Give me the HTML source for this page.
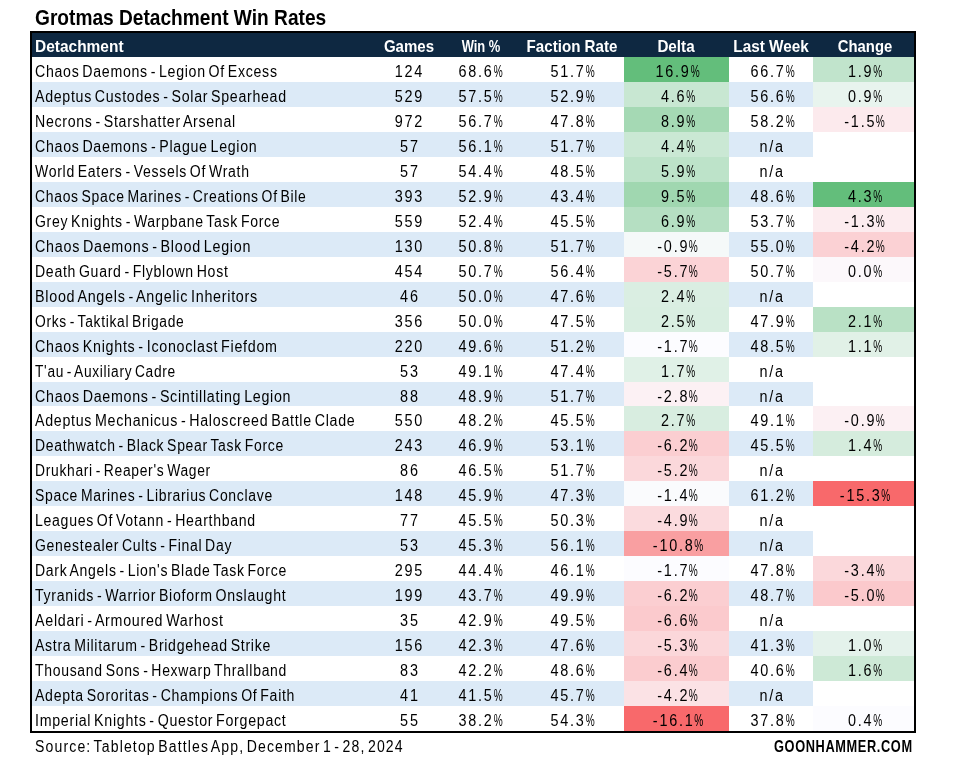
<!DOCTYPE html>
<html><head><meta charset="utf-8"><title>Grotmas Detachment Win Rates</title>
<style>
html,body{margin:0;padding:0;background:#fff;}
body{width:953px;height:759px;position:relative;overflow:hidden;font-family:"Liberation Sans",Arial,sans-serif;color:#000;}
.t{position:absolute;white-space:nowrap;transform-origin:0 0;}
#title{left:34.5px;top:6px;font-size:21.5px;font-weight:bold;line-height:24px;transform:scaleX(0.89);}
#src{left:35px;top:737px;font-size:16px;line-height:20px;transform:scaleX(0.878);letter-spacing:1.3px;word-spacing:-3px;}
#gh{left:773.5px;top:736px;font-size:16.5px;font-weight:bold;line-height:20px;transform:scaleX(0.775);letter-spacing:0.8px;}
#tb{position:absolute;left:30px;top:31px;width:882px;height:698px;border:2px solid #000;overflow:hidden;background:#fff;}
#hd{position:absolute;left:0;top:0;width:882px;height:24px;background:#0e2841;color:#fff;font-weight:bold;font-size:17px;}
#hd span{position:absolute;top:2px;line-height:24px;white-space:nowrap;}
#hd .c{width:120px;margin-left:-60px;text-align:center;}
#hd span{transform-origin:50% 50%;}
.r{position:absolute;left:0;width:882px;height:24.963px;background:#fff;}
.r.s{background:#dceaf7;}
.r span{position:absolute;top:0;height:24.963px;line-height:25px;white-space:nowrap;font-size:16px;}
.r .n{left:3.3px;top:2px;line-height:25px;transform:scaleX(0.88);letter-spacing:0.8px;word-spacing:-2px;transform-origin:0 0;}
.r .c{text-align:center;}
.r .c i{font-style:normal;display:inline-block;transform:scaleX(0.9);letter-spacing:2px;position:relative;top:2px;line-height:25px;}
.r .c u{text-decoration:none;display:inline-block;transform:scaleX(0.7);margin:0 -2.6px 0 -2.2px;letter-spacing:0;}
.r .g{left:327.7px;width:100px;}
.r .w{left:398px;width:100px;}
.r .f{left:490.3px;width:100px;}
.r .d{left:592px;width:105px;}
.r .d i{left:1px;}
.r .l{left:698px;width:84px;}
.r .h{left:781px;width:101px;}
.r .h i{left:1.5px;}
</style></head><body>
<div id="title" class="t">Grotmas Detachment Win Rates</div>
<div id="tb">
<div id="hd">
<span id="h0" style="left:2.5px;transform:scaleX(0.91);transform-origin:0 50%">Detachment</span>
<span id="h1" class="c" style="transform:scaleX(0.885);left:377.15px">Games</span>
<span id="h2" class="c" style="transform:scaleX(0.762);left:449.05px">Win %</span>
<span id="h3" class="c" style="transform:scaleX(0.89);left:540px">Faction Rate</span>
<span id="h4" class="c" style="transform:scaleX(0.895);left:643.9px">Delta</span>
<span id="h5" class="c" style="transform:scaleX(0.9);left:739.2px">Last Week</span>
<span id="h6" class="c" style="transform:scaleX(0.873);left:832.8px">Change</span>
</div>
<div class="r" style="top:24.000px"><span class="n" style="transform:scaleX(0.8844)">Chaos Daemons - Legion Of Excess</span><span class="c g"><i>124</i></span><span class="c w"><i>68.6<u>%</u></i></span><span class="c f"><i>51.7<u>%</u></i></span><span class="c d" style="background:#63be7b"><i>16.9<u>%</u></i></span><span class="c l"><i>66.7<u>%</u></i></span><span class="c h" style="background:#c1e4cc"><i>1.9<u>%</u></i></span></div>
<div class="r s" style="top:48.963px"><span class="n" style="transform:scaleX(0.8857)">Adeptus Custodes - Solar Spearhead</span><span class="c g"><i>529</i></span><span class="c w"><i>57.5<u>%</u></i></span><span class="c f"><i>52.9<u>%</u></i></span><span class="c d" style="background:#c8e7d2"><i>4.6<u>%</u></i></span><span class="c l"><i>56.6<u>%</u></i></span><span class="c h" style="background:#e8f4ee"><i>0.9<u>%</u></i></span></div>
<div class="r" style="top:73.926px"><span class="n" style="transform:scaleX(0.8845)">Necrons - Starshatter Arsenal</span><span class="c g"><i>972</i></span><span class="c w"><i>56.7<u>%</u></i></span><span class="c f"><i>47.8<u>%</u></i></span><span class="c d" style="background:#a5d9b4"><i>8.9<u>%</u></i></span><span class="c l"><i>58.2<u>%</u></i></span><span class="c h" style="background:#fceaed"><i>-1.5<u>%</u></i></span></div>
<div class="r s" style="top:98.889px"><span class="n" style="transform:scaleX(0.8864)">Chaos Daemons - Plague Legion</span><span class="c g"><i>57</i></span><span class="c w"><i>56.1<u>%</u></i></span><span class="c f"><i>51.7<u>%</u></i></span><span class="c d" style="background:#cae8d4"><i>4.4<u>%</u></i></span><span class="c l"><i>n/a</i></span><span class="c h" style="background:#fff"><i></i></span></div>
<div class="r" style="top:123.852px"><span class="n" style="transform:scaleX(0.8779)">World Eaters - Vessels Of Wrath</span><span class="c g"><i>57</i></span><span class="c w"><i>54.4<u>%</u></i></span><span class="c f"><i>48.5<u>%</u></i></span><span class="c d" style="background:#bde3c9"><i>5.9<u>%</u></i></span><span class="c l"><i>n/a</i></span><span class="c h" style="background:#fff"><i></i></span></div>
<div class="r s" style="top:148.815px"><span class="n" style="transform:scaleX(0.871)">Chaos Space Marines - Creations Of Bile</span><span class="c g"><i>393</i></span><span class="c w"><i>52.9<u>%</u></i></span><span class="c f"><i>43.4<u>%</u></i></span><span class="c d" style="background:#a0d7b0"><i>9.5<u>%</u></i></span><span class="c l"><i>48.6<u>%</u></i></span><span class="c h" style="background:#63be7b"><i>4.3<u>%</u></i></span></div>
<div class="r" style="top:173.778px"><span class="n" style="transform:scaleX(0.8775)">Grey Knights - Warpbane Task Force</span><span class="c g"><i>559</i></span><span class="c w"><i>52.4<u>%</u></i></span><span class="c f"><i>45.5<u>%</u></i></span><span class="c d" style="background:#b5dfc2"><i>6.9<u>%</u></i></span><span class="c l"><i>53.7<u>%</u></i></span><span class="c h" style="background:#fcecef"><i>-1.3<u>%</u></i></span></div>
<div class="r s" style="top:198.741px"><span class="n" style="transform:scaleX(0.8959)">Chaos Daemons - Blood Legion</span><span class="c g"><i>130</i></span><span class="c w"><i>50.8<u>%</u></i></span><span class="c f"><i>51.7<u>%</u></i></span><span class="c d" style="background:#f5f9f9"><i>-0.9<u>%</u></i></span><span class="c l"><i>55.0<u>%</u></i></span><span class="c h" style="background:#fbd1d4"><i>-4.2<u>%</u></i></span></div>
<div class="r" style="top:223.704px"><span class="n" style="transform:scaleX(0.88)">Death Guard - Flyblown Host</span><span class="c g"><i>454</i></span><span class="c w"><i>50.7<u>%</u></i></span><span class="c f"><i>56.4<u>%</u></i></span><span class="c d" style="background:#fbd3d6"><i>-5.7<u>%</u></i></span><span class="c l"><i>50.7<u>%</u></i></span><span class="c h" style="background:#fcf8fb"><i>0.0<u>%</u></i></span></div>
<div class="r s" style="top:248.667px"><span class="n" style="transform:scaleX(0.8962)">Blood Angels - Angelic Inheritors</span><span class="c g"><i>46</i></span><span class="c w"><i>50.0<u>%</u></i></span><span class="c f"><i>47.6<u>%</u></i></span><span class="c d" style="background:#daeee2"><i>2.4<u>%</u></i></span><span class="c l"><i>n/a</i></span><span class="c h" style="background:#fff"><i></i></span></div>
<div class="r" style="top:273.630px"><span class="n" style="transform:scaleX(0.8636)">Orks - Taktikal Brigade</span><span class="c g"><i>356</i></span><span class="c w"><i>50.0<u>%</u></i></span><span class="c f"><i>47.5<u>%</u></i></span><span class="c d" style="background:#d9eee1"><i>2.5<u>%</u></i></span><span class="c l"><i>47.9<u>%</u></i></span><span class="c h" style="background:#b9e1c5"><i>2.1<u>%</u></i></span></div>
<div class="r s" style="top:298.593px"><span class="n" style="transform:scaleX(0.893)">Chaos Knights - Iconoclast Fiefdom</span><span class="c g"><i>220</i></span><span class="c w"><i>49.6<u>%</u></i></span><span class="c f"><i>51.2<u>%</u></i></span><span class="c d" style="background:#fcfcff"><i>-1.7<u>%</u></i></span><span class="c l"><i>48.5<u>%</u></i></span><span class="c h" style="background:#e1f1e7"><i>1.1<u>%</u></i></span></div>
<div class="r" style="top:323.556px"><span class="n" style="transform:scaleX(0.8584)">T'au - Auxiliary Cadre</span><span class="c g"><i>53</i></span><span class="c w"><i>49.1<u>%</u></i></span><span class="c f"><i>47.4<u>%</u></i></span><span class="c d" style="background:#e0f1e7"><i>1.7<u>%</u></i></span><span class="c l"><i>n/a</i></span><span class="c h" style="background:#fff"><i></i></span></div>
<div class="r s" style="top:348.519px"><span class="n" style="transform:scaleX(0.8909)">Chaos Daemons - Scintillating Legion</span><span class="c g"><i>88</i></span><span class="c w"><i>48.9<u>%</u></i></span><span class="c f"><i>51.7<u>%</u></i></span><span class="c d" style="background:#fcf1f4"><i>-2.8<u>%</u></i></span><span class="c l"><i>n/a</i></span><span class="c h" style="background:#fff"><i></i></span></div>
<div class="r" style="top:373.482px"><span class="n" style="transform:scaleX(0.8889)">Adeptus Mechanicus - Haloscreed Battle Clade</span><span class="c g"><i>550</i></span><span class="c w"><i>48.2<u>%</u></i></span><span class="c f"><i>45.5<u>%</u></i></span><span class="c d" style="background:#d8ede0"><i>2.7<u>%</u></i></span><span class="c l"><i>49.1<u>%</u></i></span><span class="c h" style="background:#fcf0f3"><i>-0.9<u>%</u></i></span></div>
<div class="r s" style="top:398.445px"><span class="n" style="transform:scaleX(0.8722)">Deathwatch - Black Spear Task Force</span><span class="c g"><i>243</i></span><span class="c w"><i>46.9<u>%</u></i></span><span class="c f"><i>53.1<u>%</u></i></span><span class="c d" style="background:#fbced1"><i>-6.2<u>%</u></i></span><span class="c l"><i>45.5<u>%</u></i></span><span class="c h" style="background:#d5ecdd"><i>1.4<u>%</u></i></span></div>
<div class="r" style="top:423.408px"><span class="n" style="transform:scaleX(0.8656)">Drukhari - Reaper's Wager</span><span class="c g"><i>86</i></span><span class="c w"><i>46.5<u>%</u></i></span><span class="c f"><i>51.7<u>%</u></i></span><span class="c d" style="background:#fbd8db"><i>-5.2<u>%</u></i></span><span class="c l"><i>n/a</i></span><span class="c h" style="background:#fff"><i></i></span></div>
<div class="r s" style="top:448.371px"><span class="n" style="transform:scaleX(0.8726)">Space Marines - Librarius Conclave</span><span class="c g"><i>148</i></span><span class="c w"><i>45.9<u>%</u></i></span><span class="c f"><i>47.3<u>%</u></i></span><span class="c d" style="background:#fafbfd"><i>-1.4<u>%</u></i></span><span class="c l"><i>61.2<u>%</u></i></span><span class="c h" style="background:#f8696b"><i>-15.3<u>%</u></i></span></div>
<div class="r" style="top:473.334px"><span class="n" style="transform:scaleX(0.8804)">Leagues Of Votann - Hearthband</span><span class="c g"><i>77</i></span><span class="c w"><i>45.5<u>%</u></i></span><span class="c f"><i>50.3<u>%</u></i></span><span class="c d" style="background:#fbdbde"><i>-4.9<u>%</u></i></span><span class="c l"><i>n/a</i></span><span class="c h" style="background:#fff"><i></i></span></div>
<div class="r s" style="top:498.297px"><span class="n" style="transform:scaleX(0.876)">Genestealer Cults - Final Day</span><span class="c g"><i>53</i></span><span class="c w"><i>45.3<u>%</u></i></span><span class="c f"><i>56.1<u>%</u></i></span><span class="c d" style="background:#f99fa1"><i>-10.8<u>%</u></i></span><span class="c l"><i>n/a</i></span><span class="c h" style="background:#fff"><i></i></span></div>
<div class="r" style="top:523.260px"><span class="n" style="transform:scaleX(0.8772)">Dark Angels - Lion's Blade Task Force</span><span class="c g"><i>295</i></span><span class="c w"><i>44.4<u>%</u></i></span><span class="c f"><i>46.1<u>%</u></i></span><span class="c d" style="background:#fcfcff"><i>-1.7<u>%</u></i></span><span class="c l"><i>47.8<u>%</u></i></span><span class="c h" style="background:#fbd8db"><i>-3.4<u>%</u></i></span></div>
<div class="r s" style="top:548.223px"><span class="n" style="transform:scaleX(0.8842)">Tyranids - Warrior Bioform Onslaught</span><span class="c g"><i>199</i></span><span class="c w"><i>43.7<u>%</u></i></span><span class="c f"><i>49.9<u>%</u></i></span><span class="c d" style="background:#fbced1"><i>-6.2<u>%</u></i></span><span class="c l"><i>48.7<u>%</u></i></span><span class="c h" style="background:#fbc9cc"><i>-5.0<u>%</u></i></span></div>
<div class="r" style="top:573.186px"><span class="n" style="transform:scaleX(0.8919)">Aeldari - Armoured Warhost</span><span class="c g"><i>35</i></span><span class="c w"><i>42.9<u>%</u></i></span><span class="c f"><i>49.5<u>%</u></i></span><span class="c d" style="background:#fbcacd"><i>-6.6<u>%</u></i></span><span class="c l"><i>n/a</i></span><span class="c h" style="background:#fff"><i></i></span></div>
<div class="r s" style="top:598.149px"><span class="n" style="transform:scaleX(0.88)">Astra Militarum - Bridgehead Strike</span><span class="c g"><i>156</i></span><span class="c w"><i>42.3<u>%</u></i></span><span class="c f"><i>47.6<u>%</u></i></span><span class="c d" style="background:#fbd7da"><i>-5.3<u>%</u></i></span><span class="c l"><i>41.3<u>%</u></i></span><span class="c h" style="background:#e4f2eb"><i>1.0<u>%</u></i></span></div>
<div class="r" style="top:623.112px"><span class="n" style="transform:scaleX(0.8741)">Thousand Sons - Hexwarp Thrallband</span><span class="c g"><i>83</i></span><span class="c w"><i>42.2<u>%</u></i></span><span class="c f"><i>48.6<u>%</u></i></span><span class="c d" style="background:#fbcccf"><i>-6.4<u>%</u></i></span><span class="c l"><i>40.6<u>%</u></i></span><span class="c h" style="background:#cde9d6"><i>1.6<u>%</u></i></span></div>
<div class="r s" style="top:648.075px"><span class="n" style="transform:scaleX(0.881)">Adepta Sororitas - Champions Of Faith</span><span class="c g"><i>41</i></span><span class="c w"><i>41.5<u>%</u></i></span><span class="c f"><i>45.7<u>%</u></i></span><span class="c d" style="background:#fbe2e5"><i>-4.2<u>%</u></i></span><span class="c l"><i>n/a</i></span><span class="c h" style="background:#fff"><i></i></span></div>
<div class="r" style="top:673.038px"><span class="n" style="transform:scaleX(0.8882)">Imperial Knights - Questor Forgepact</span><span class="c g"><i>55</i></span><span class="c w"><i>38.2<u>%</u></i></span><span class="c f"><i>54.3<u>%</u></i></span><span class="c d" style="background:#f8696b"><i>-16.1<u>%</u></i></span><span class="c l"><i>37.8<u>%</u></i></span><span class="c h" style="background:#fcfcff"><i>0.4<u>%</u></i></span></div>
</div>
<div id="src" class="t">Source: Tabletop Battles App, December 1 - 28, 2024</div>
<div id="gh" class="t">GOONHAMMER.COM</div>
</body></html>
